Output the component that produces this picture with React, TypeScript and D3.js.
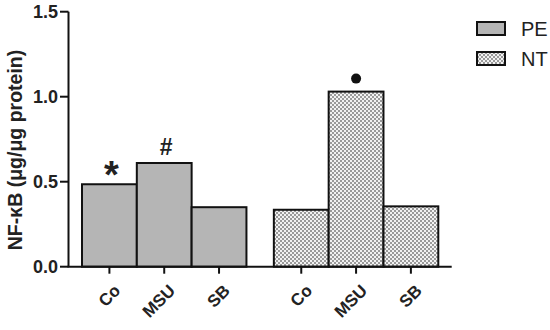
import * as d3 from "d3";
import { useEffect, useRef } from "react";

const categories = ["Co", "MSU", "SB"];
const groups = ["PE", "NT"];
const peValues = [0.485, 0.61, 0.35];
const ntValues = [0.335, 1.03, 0.355];
const yTicks = [0, 0.5, 1.0, 1.5];
const marks = [
  { group: "PE", cat: "Co", symbol: "*" },
  { group: "PE", cat: "MSU", symbol: "#" },
  { group: "NT", cat: "MSU", symbol: "dot" },
];

export default function App() {
  const ref = useRef<SVGSVGElement>(null);

  useEffect(() => {
    const width = 550;
    const height = 330;
    const svg = d3.select(ref.current);
    svg.selectAll("*").remove();
    svg.attr("width", width).attr("height", height).attr("font-family", "Liberation Sans, Arial, sans-serif");

    // pattern for NT bars
    const defs = svg.append("defs");
    const pat = defs
      .append("pattern")
      .attr("id", "checker")
      .attr("patternUnits", "userSpaceOnUse")
      .attr("width", 4)
      .attr("height", 4);
    pat.append("rect").attr("width", 4).attr("height", 4).attr("fill", "#f2f2f2");
    pat.append("rect").attr("width", 2).attr("height", 2).attr("fill", "#9a9a9a");
    pat.append("rect").attr("x", 2).attr("y", 2).attr("width", 2).attr("height", 2).attr("fill", "#9a9a9a");

    const y = d3.scaleLinear().domain([0, 1.5]).range([266.7, 11.7]);
    // bar slots: 3 PE bars, half gap, 3 NT bars
    const x = d3.scaleLinear().domain([0, 6.5]).range([82, 438.3]);
    const slot = (g: string, c: string) => (g === "PE" ? 0 : 3.5) + categories.indexOf(c);

    const data = [
      ...categories.map((c, i) => ({ group: "PE", cat: c, value: peValues[i] })),
      ...categories.map((c, i) => ({ group: "NT", cat: c, value: ntValues[i] })),
    ];

    const fillOf = (g: string) => (g === "PE" ? "#b5b5b5" : "url(#checker)");

    svg
      .append("g")
      .selectAll("rect")
      .data(data)
      .join("rect")
      .attr("x", (d) => x(slot(d.group, d.cat)))
      .attr("width", x(1) - x(0))
      .attr("y", (d) => y(d.value))
      .attr("height", (d) => y(0) - y(d.value))
      .attr("fill", (d) => fillOf(d.group))
      .attr("stroke", "#111")
      .attr("stroke-width", 2);

    // y axis
    const ya = svg.append("g");
    ya.append("line")
      .attr("x1", 68.5)
      .attr("x2", 68.5)
      .attr("y1", y(1.5))
      .attr("y2", y(0))
      .attr("stroke", "#111")
      .attr("stroke-width", 2);
    ya.selectAll("line.tick")
      .data(yTicks)
      .join("line")
      .attr("class", "tick")
      .attr("x1", 60)
      .attr("x2", 68.5)
      .attr("y1", (d) => y(d))
      .attr("y2", (d) => y(d))
      .attr("stroke", "#111")
      .attr("stroke-width", 2);
    ya.selectAll("text")
      .data(yTicks)
      .join("text")
      .attr("x", 58)
      .attr("y", (d) => y(d))
      .attr("dy", "0.36em")
      .attr("text-anchor", "end")
      .attr("font-size", 18)
      .attr("font-weight", "bold")
      .attr("fill", "#222")
      .text((d) => d3.format(".1f")(d));

    svg
      .append("text")
      .attr("transform", `translate(22,150) rotate(-90)`)
      .attr("text-anchor", "middle")
      .attr("font-size", 19.5)
      .attr("font-weight", "bold")
      .attr("fill", "#222")
      .text("NF-κB (μg/μg protein)");

    // x axis
    const xa = svg.append("g");
    xa.append("line")
      .attr("x1", 67.5)
      .attr("x2", 451.7)
      .attr("y1", y(0))
      .attr("y2", y(0))
      .attr("stroke", "#111")
      .attr("stroke-width", 2);
    xa.selectAll("line.tick")
      .data(data)
      .join("line")
      .attr("class", "tick")
      .attr("x1", (d) => x(slot(d.group, d.cat) + 0.5))
      .attr("x2", (d) => x(slot(d.group, d.cat) + 0.5))
      .attr("y1", y(0))
      .attr("y2", y(0) + 7)
      .attr("stroke", "#111")
      .attr("stroke-width", 2);
    xa.selectAll("text")
      .data(data)
      .join("text")
      .attr("transform", (d) => `translate(${x(slot(d.group, d.cat) + 0.5) + 3},${y(0) + 16}) rotate(-45)`)
      .attr("text-anchor", "end")
      .attr("dy", "0.75em")
      .attr("font-size", 17)
      .attr("font-weight", "bold")
      .attr("fill", "#222")
      .text((d) => d.cat);

    // significance marks
    marks.forEach((m) => {
      const d = data.find((v) => v.group === m.group && v.cat === m.cat)!;
      const cx = x(slot(m.group, m.cat) + 0.5);
      if (m.symbol === "dot") {
        svg.append("circle").attr("cx", cx).attr("cy", y(d.value) - 13).attr("r", 5).attr("fill", "#111");
      } else {
        svg
          .append("text")
          .attr("x", cx + 2)
          .attr("y", y(d.value) - (m.symbol === "*" ? -4 : 8))
          .attr("text-anchor", "middle")
          .attr("font-size", m.symbol === "*" ? 38 : 23)
          .attr("font-weight", "bold")
          .attr("fill", "#222")
          .text(m.symbol);
      }
    });

    // legend
    const lg = svg
      .append("g")
      .selectAll("g")
      .data(groups)
      .join("g")
      .attr("transform", (d, i) => `translate(477,${22 + i * 30})`);
    lg.append("rect")
      .attr("width", 28)
      .attr("height", 13)
      .attr("fill", (d) => fillOf(d))
      .attr("stroke", "#111")
      .attr("stroke-width", 2);
    lg.append("text")
      .attr("x", 44)
      .attr("y", 6.5)
      .attr("dy", "0.36em")
      .attr("font-size", 20)
      .attr("fill", "#222")
      .text((d) => d);
  }, []);

  return <svg ref={ref} style={{ position: "absolute", left: 0, top: 0 }}></svg>;
}
